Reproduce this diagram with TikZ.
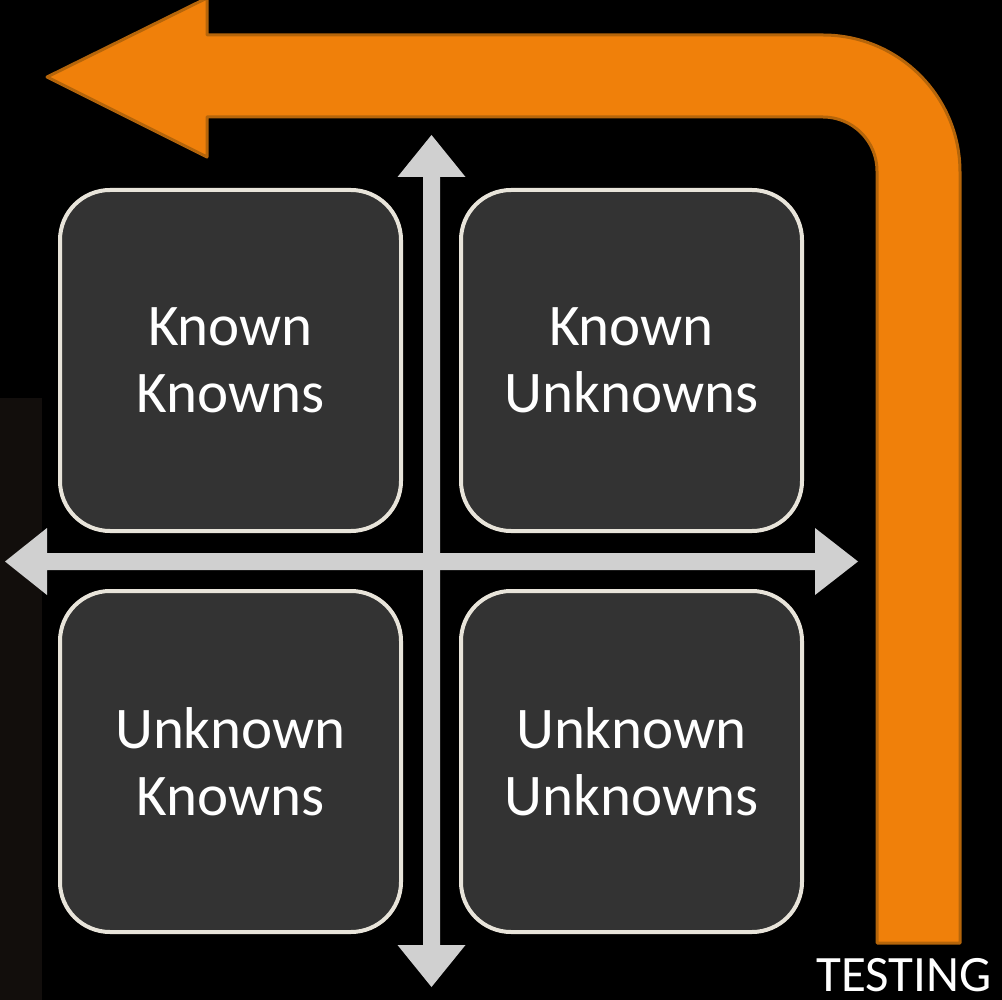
\documentclass[tikz,border=0pt]{standalone}
\usepackage{fontspec}
\setmainfont{Carlito}
\definecolor{boxfill}{HTML}{333333}
\definecolor{boxline}{HTML}{E8E4DA}
\definecolor{crossgray}{HTML}{D0D0D0}
\definecolor{orangefill}{HTML}{F0800A}
\definecolor{orangeline}{HTML}{B5650A}
\definecolor{leftshade}{HTML}{120E0C}
\begin{document}
\begin{tikzpicture}[x=1pt,y=-1pt,
  quadbox/.style={draw=boxline, line width=4pt, fill=boxfill, rounded corners=50pt,
    minimum width=341pt, minimum height=341pt, inner sep=0pt, align=center,
    text=white, font=\fontsize{59}{67}\selectfont},
  crossarrow/.style={fill=crossgray, draw=none},
  bigarrow/.style={fill=orangefill, draw=orangeline, line width=3pt, line join=round}]
\fill[black] (0,0) rectangle (1002,1000);
\useasboundingbox (0,0) rectangle (1002,1000);
\fill[leftshade] (0,398) rectangle (42,1000);
% orange bent arrow
\path[bigarrow] (47,77) -- (207,-2) -- (207,35) -- (823,35)
  arc[start angle=90, end angle=0, radius=137pt] -- (960,943) -- (877,943) -- (877,171)
  arc[start angle=0, end angle=90, radius=54pt] -- (207,117) -- (207,157) -- cycle;
% quadrant boxes
\node[quadbox] (kk) at (230.5,360.5) {Known\\Knowns};
\node[quadbox] (ku) at (631.5,360.5) {Known\\Unknowns};
\node[quadbox] (uk) at (230.5,761.5) {Unknown\\Knowns};
\node[quadbox] (uu) at (631.5,761.5) {Unknown\\Unknowns};
% cross arrows
\path[crossarrow] (431.5,135) -- (465.5,177) -- (440,177) -- (440,945) -- (465.5,945)
  -- (431.5,987) -- (397.5,945) -- (423,945) -- (423,177) -- (397.5,177) -- cycle;
\path[crossarrow] (5,561.5) -- (47,528) -- (47,553) -- (815,553) -- (815,528)
  -- (858,561.5) -- (815,595) -- (815,570) -- (47,570) -- (47,595) -- cycle;
\node[anchor=base, text=white, font=\fontsize{51}{60}\selectfont, inner sep=0pt] (testing) at (904,991) {TESTING};
\end{tikzpicture}
\end{document}
